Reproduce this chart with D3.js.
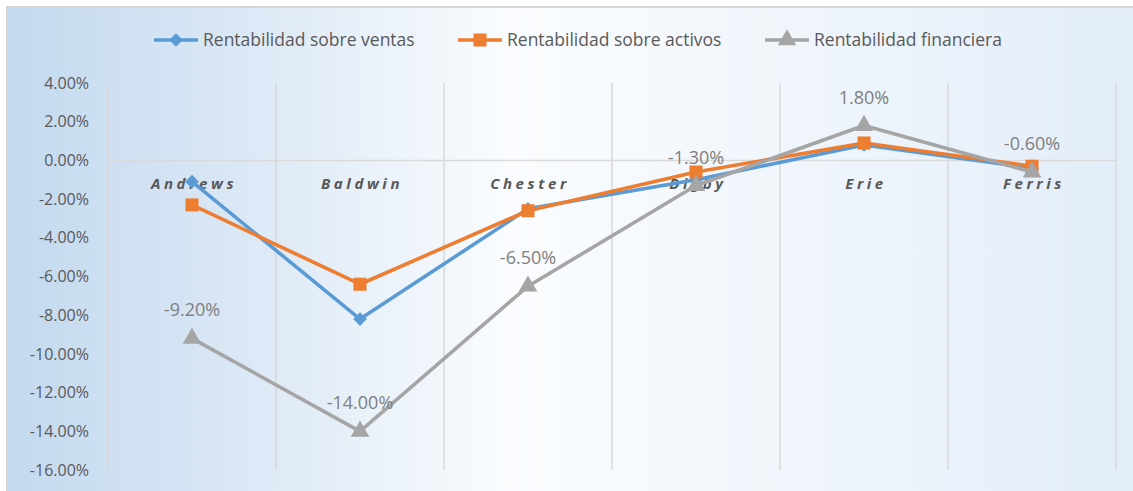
<!DOCTYPE html>
<html lang="es">
  <head>
    <meta charset="UTF-8" />
    <title>Rentabilidad</title>
    <script src="https://d3js.org/d3.v7.min.js"></script>
    <style>
      body { margin: 0; background: #fff; }
      svg { display: block; font-family: "Open Sans", "Noto Sans", sans-serif; }
    </style>
  </head>
  <body>
    <svg></svg>
    <script>
      // data (percent)
      const companies = ["Andrews", "Baldwin", "Chester", "Digby", "Erie", "Ferris"];
      const ventas = [-1.1, -8.2, -2.5, -1.0, 0.8, -0.4];
      const activos = [-2.3, -6.4, -2.6, -0.6, 0.9, -0.3];
      const financiera = [-9.2, -14.0, -6.5, -1.3, 1.8, -0.6];
      const yTicks = [4, 2, 0, -2, -4, -6, -8, -10, -12, -14, -16];

      const series = [
        { name: "Rentabilidad sobre ventas", values: ventas, color: "#5b9bd5", marker: "diamond" },
        { name: "Rentabilidad sobre activos", values: activos, color: "#ed7d31", marker: "square" },
        { name: "Rentabilidad financiera", values: financiera, color: "#a5a5a5", marker: "triangle", labels: true },
      ];

      const width = 1133, height = 491;
      const svg = d3.select("svg").attr("width", width).attr("height", height);

      // background gradient
      const defs = svg.append("defs");
      const grad = defs.append("linearGradient").attr("id", "bg").attr("x1", "0").attr("x2", "1").attr("y1", "0").attr("y2", "0");
      grad.append("stop").attr("offset", "0").attr("stop-color", "#c3d9ef");
      grad.append("stop").attr("offset", "0.2").attr("stop-color", "#dae7f5");
      grad.append("stop").attr("offset", "0.45").attr("stop-color", "#fafcfe");
      grad.append("stop").attr("offset", "0.75").attr("stop-color", "#eef4fb");
      grad.append("stop").attr("offset", "1").attr("stop-color", "#e2edf9");

      svg.append("rect").attr("x", 0).attr("y", 0).attr("width", width).attr("height", height).attr("fill", "#fff");
      svg.append("rect").attr("x", 7).attr("y", 7).attr("width", width - 7).attr("height", height - 7).attr("fill", "url(#bg)");
      svg.append("path").attr("d", `M7,${height}V7H${width}`).attr("fill", "none").attr("stroke", "#d4d4d4").attr("stroke-width", 2);

      const x = d3.scaleBand().domain(companies).range([108, 1116]).padding(0);
      const y = d3.scaleLinear().domain([-16, 4]).range([470, 83]);

      // vertical gridlines at category boundaries
      const bounds = companies.map((c) => x(c)).concat([x.range()[1]]);
      svg.append("g").selectAll("line").data(bounds).join("line")
        .attr("x1", (d) => d).attr("x2", (d) => d)
        .attr("y1", y(4)).attr("y2", y(-16))
        .attr("stroke", "#d9d9d9").attr("stroke-width", 1.5);

      // zero line (category axis)
      svg.append("line").attr("x1", x.range()[0]).attr("x2", x.range()[1])
        .attr("y1", y(0)).attr("y2", y(0)).attr("stroke", "#d9d9d9").attr("stroke-width", 1.5);

      // y axis labels
      const yAxis = d3.axisLeft(y).tickValues(yTicks).tickSize(0).tickPadding(0)
        .tickFormat((d) => d.toFixed(2) + "%");
      const yg = svg.append("g").attr("transform", "translate(89,0)").call(yAxis);
      yg.select(".domain").remove();
      yg.selectAll("text").attr("fill", "#595959").style("font-size", "16px").style("font-family", "'Open Sans', sans-serif");

      // category labels just under the zero line
      svg.append("g").selectAll("text").data(companies).join("text")
        .attr("x", (d) => x(d) + x.bandwidth() / 2 + 2)
        .attr("y", y(0) + 29)
        .attr("text-anchor", "middle")
        .attr("fill", "#595959")
        .style("font-size", "15px")
        .style("font-weight", "bold")
        .style("font-style", "italic")
        .style("letter-spacing", "3.6px")
        .text((d) => d);

      const cx = (i) => x(companies[i]) + x.bandwidth() / 2;
      const line = d3.line().x((d, i) => cx(i)).y((d) => y(d));

      const symbols = {
        diamond: d3.symbol().type(d3.symbolDiamond2).size(120),
        square: d3.symbol().type(d3.symbolSquare).size(170),
        triangle: d3.symbol().type(d3.symbolTriangle).size(150),
      };

      series.forEach((s) => {
        const g = svg.append("g");
        g.append("path").attr("d", line(s.values)).attr("fill", "none")
          .attr("stroke", s.color).attr("stroke-width", 3.6).attr("stroke-linejoin", "round");
        g.selectAll("path.m").data(s.values).join("path").attr("class", "m")
          .attr("transform", (d, i) => `translate(${cx(i)},${y(d)})`)
          .attr("d", symbols[s.marker]())
          .attr("fill", s.color);
        if (s.labels) {
          g.selectAll("text").data(s.values).join("text")
            .attr("x", (d, i) => cx(i))
            .attr("y", (d) => y(d) - 22)
            .attr("text-anchor", "middle")
            .attr("fill", "#7f7f7f")
            .style("font-size", "18px")
            .text((d) => d.toFixed(2) + "%");
        }
      });

      // legend
      const legendX = [154, 458, 765];
      const lg = svg.append("g");
      series.forEach((s, i) => {
        const gg = lg.append("g").attr("transform", `translate(${legendX[i]},40)`);
        gg.append("line").attr("x1", 0).attr("x2", 44).attr("stroke", s.color).attr("stroke-width", 3.6);
        gg.append("path").attr("transform", "translate(22,0)").attr("d", symbols[s.marker]()).attr("fill", s.color);
        gg.append("text").attr("x", 49).attr("y", 6).attr("fill", "#595959").style("font-size", "17.5px").text(s.name);
      });
    </script>
  </body>
</html>
